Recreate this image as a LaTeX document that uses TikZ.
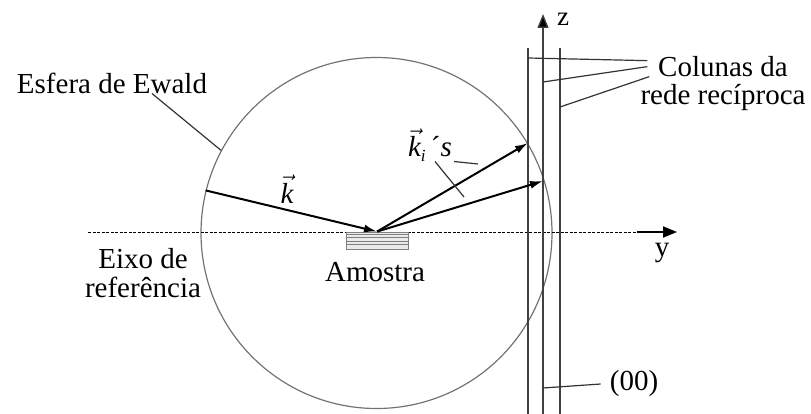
\documentclass[tikz,border=0pt]{standalone}
\usepackage{fix-cm}
\usepackage{fontspec}
\setmainfont{Liberation Serif}
\usetikzlibrary{arrows.meta}

\begin{document}
\begin{tikzpicture}[x=1pt, y=-1pt,
  font=\fontsize{29}{29}\selectfont,
  lbl/.style={inner sep=0pt, align=center},
  lead/.style={line width=1.2pt, draw=black!80},
  col/.style={line width=1.3pt, draw=black!75},
  wave/.style={-{Latex[length=13pt,width=8pt]}, line width=2pt},
  axis/.style={-{Triangle[length=14pt,width=11pt]}, line width=2pt},
  axdash/.style={line width=1pt, dash pattern=on 3pt off 1.5pt}
]
\path[use as bounding box] (0,0) rectangle (811,414);
% ---------- Ewald sphere and sample ----------
\node[circle, draw=black!55, line width=1.2pt, minimum size=351pt, inner sep=0pt] (ewald) at (376.5,233) {};
\draw[axdash] (88,232) coordinate (ax0) -- (637,232) coordinate (ax1);
\draw[axis] (ax1) -- (677,232) coordinate (ax2);
\node[draw=black!50, fill=black!8, minimum width=62pt, minimum height=17pt, inner sep=0pt, line width=0.8pt] (sample) at (377,240.5) {};
\foreach \d in {-4,-0.5,3,6.5}
  \draw[black!50, line width=0.8pt] ([yshift=\d pt]sample.west) -- ([yshift=\d pt]sample.east);
% ---------- reciprocal lattice columns ----------
\coordinate (colA0) at (528,48);  \coordinate (colA1) at (528,414);
\coordinate (colB0) at (543,414); \coordinate (colB1) at (543,14);
\coordinate (colC0) at (560,48);  \coordinate (colC1) at (560,414);
\draw[col] (colA0) -- (colA1);
\draw[col] (colC0) -- (colC1);
\draw[axis, col, -{Triangle[length=14pt,width=11pt,fill=black]}] (colB0) -- (colB1);
% ---------- wave vectors ----------
\coordinate (hit1) at (528,143);
\coordinate (hit2) at (543,181);
\draw[wave] (ewald.166.6) -- (sample.north);
\draw[wave] (sample.north) -- (hit1);
\draw[wave] (sample.north) -- (hit2);
% ---------- labels ----------
\node[lbl] (esfera) at (112,83) {Esfera de Ewald};
\node[lbl] (eixo) at (143,273) {Eixo de\\ referência};
\node[lbl] (amostra) at (375,272) {Amostra};
\node[lbl] (klbl) at (287,189) {$\vec{\mbox{\itshape k}}$};
\node[lbl] (kilbl) at (430,145) {$\vec{\mbox{\itshape k}}_{\mbox{\fontsize{17}{17}\selectfont\itshape i}}$\,´\textit{s}};
\node[lbl, font=\fontsize{27}{27}\selectfont] (zlbl) at (563,19) {z};
\node[lbl] (ylbl) at (662,253) {y};
\node[lbl, font=\fontsize{29}{28}\selectfont] (colunas) at (723,84) {Colunas da\\ rede recíproca};
\node[lbl] (zz) at (634,384) {(00)};
% ---------- leaders ----------
\draw[lead] ([xshift=40pt]esfera.south) -- (ewald.152.6);
\coordinate (kt1) at (478,164);
\coordinate (kt2) at (464,197);
\draw[lead] ([shift={(2pt,0pt)}]kilbl.south east) -- (kt1);
\draw[lead] ([xshift=5pt]kilbl.south) -- (kt2);
\coordinate (cl1) at (528,58);
\coordinate (cl2) at (543,82);
\coordinate (cl3) at (560,107);
\draw[lead] ([shift={(7pt,-4pt)}]colunas.north west) -- (cl1);
\draw[lead] ([shift={(7pt,-10pt)}]colunas.north west) -- (cl2);
\draw[lead] ([shift={(9pt,-20pt)}]colunas.north west) -- (cl3);
\coordinate (cl4) at (543,388);
\draw[lead] ([xshift=-9pt]zz.west) -- (cl4);
\end{tikzpicture}
\end{document}
